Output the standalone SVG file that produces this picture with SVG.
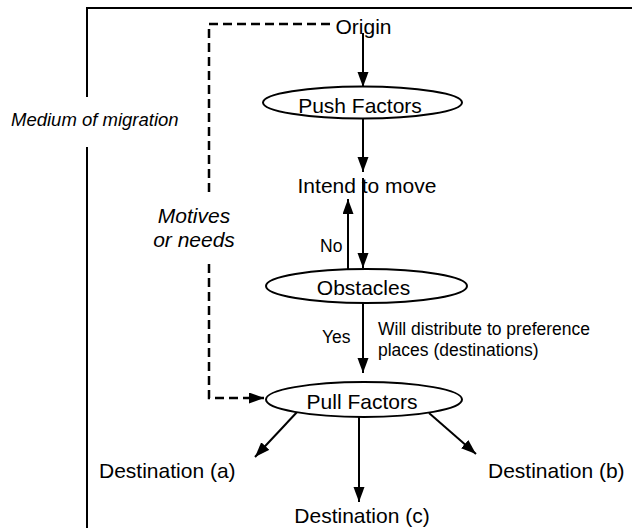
<svg xmlns="http://www.w3.org/2000/svg" width="632" height="528" viewBox="0 0 632 528">
  <style>
    text { font-family: "Liberation Sans", Arial, sans-serif; fill: #000; }
    .main { font-size: 21px; }
    .small { font-size: 17.5px; }
    .it { font-style: italic; }
    .mid { text-anchor: middle; }
    .node ellipse { fill: #fff; stroke: #000; stroke-width: 2; }
    .frame { fill: none; stroke: #000; stroke-width: 2; }
    .conn line, .conn polyline { fill: none; stroke: #000; stroke-width: 2; }
    .conn .dash { stroke-width: 2.5; stroke-dasharray: 9 5; }
  </style>
  <defs>
    <marker id="arr" markerUnits="userSpaceOnUse" markerWidth="16" markerHeight="12" refX="15" refY="5.5" orient="auto">
      <path d="M0,0 L15,5.5 L0,11 z" fill="#000"/>
    </marker>
  </defs>

  <g id="frame">
    <polyline class="frame" points="87,97 87,8 632,8"/>
    <line class="frame" x1="87" y1="147" x2="87" y2="528"/>
  </g>

  <g id="connectors" class="conn">
    <polyline class="dash" points="330,24 209,24 209,193"/>
    <polyline class="dash" points="209,264 209,398 264,398" marker-end="url(#arr)"/>
    <line x1="363" y1="33" x2="363" y2="87" marker-end="url(#arr)"/>
    <line x1="363" y1="119" x2="363" y2="172" marker-end="url(#arr)"/>
    <line x1="363" y1="178" x2="363" y2="268" marker-end="url(#arr)"/>
    <line x1="348" y1="269" x2="348" y2="199" marker-end="url(#arr)"/>
    <line x1="363" y1="303" x2="363" y2="373" marker-end="url(#arr)"/>
    <line x1="298" y1="411" x2="255" y2="457" marker-end="url(#arr)"/>
    <line x1="359" y1="416" x2="359" y2="502" marker-end="url(#arr)"/>
    <line x1="429" y1="413" x2="476" y2="454" marker-end="url(#arr)"/>
  </g>

  <g id="origin"><text class="main mid" x="363.5" y="34">Origin</text></g>
  <g id="push-factors" class="node">
    <ellipse cx="362.5" cy="102.5" rx="99.5" ry="16"/>
    <text class="main mid" x="360" y="113">Push Factors</text>
  </g>
  <g id="intend"><text class="main mid" x="367" y="193">Intend to move</text></g>
  <g id="obstacles" class="node">
    <ellipse cx="366.5" cy="286" rx="100.5" ry="17"/>
    <text class="main mid" x="363.5" y="295">Obstacles</text>
  </g>
  <g id="pull-factors" class="node">
    <ellipse cx="364" cy="399.5" rx="98" ry="17.5"/>
    <text class="main mid" x="362" y="409">Pull Factors</text>
  </g>
  <g id="dest-a"><text class="main" x="99" y="478">Destination (a)</text></g>
  <g id="dest-b"><text class="main" x="488" y="478">Destination (b)</text></g>
  <g id="dest-c"><text class="main mid" x="362" y="523">Destination (c)</text></g>

  <g id="labels">
    <text class="it" style="font-size:18.5px" x="11" y="126">Medium of migration</text>
    <text class="main it mid" x="194" y="223">Motives</text>
    <text class="main it mid" x="194" y="247">or needs</text>
    <text class="small" x="320" y="252">No</text>
    <text class="small" x="322" y="343">Yes</text>
    <text class="small" x="378" y="335">Will distribute to preference</text>
    <text class="small" x="378" y="356">places (destinations)</text>
  </g>
</svg>
